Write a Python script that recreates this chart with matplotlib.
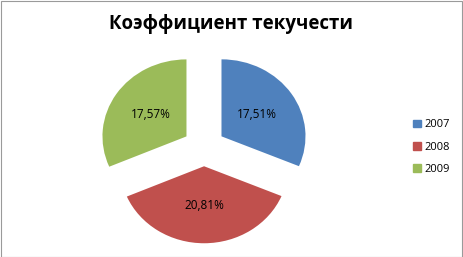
import matplotlib
matplotlib.use("Agg")
import matplotlib.pyplot as plt
from matplotlib.patches import Rectangle
import numpy as np

years = ["2007", "2008", "2009"]
values = [17.51, 20.81, 17.57]
colors = ["#4F81BD", "#C0504D", "#9BBB59"]
title = "Коэффициент текучести"

W, H = 463, 257
fig = plt.figure(figsize=(W / 100, H / 100), dpi=100)
fig.patch.set_facecolor("white")

# pie axes: center at (204,147) px, radii 84 x 77 px (stretched as in reference)
RX, RY = 84.0, 77.0
cx, cy = 204, 147
half = 110
ax = fig.add_axes([(cx - half) / W, (H - cy - half) / H, 2 * half / W, 2 * half / H])
ax.axis("off")

labels_txt = [f"{v:.2f}".replace(".", ",") + "%" for v in values]
explode = 0.25
wedges, texts = ax.pie(values, colors=colors, startangle=90, counterclock=False,
                       explode=[explode] * 3, radius=1.0, labels=None,
                       wedgeprops=dict(linewidth=0))
for w, lab in zip(wedges, labels_txt):
    ang = np.deg2rad((w.theta1 + w.theta2) / 2)
    d = 0.755
    ax.text(d * np.cos(ang), d * np.sin(ang), lab, ha="center", va="center",
            fontsize=8.5, family=["Open Sans", "DejaVu Sans"], color="black")
ax.set_aspect("auto")
ax.set_xlim(-half / RX, half / RX)
ax.set_ylim(-half / RY, half / RY)

fig.text(231 / W, 1 - 24 / H, title, ha="center", va="center", fontsize=13.5,
         fontweight="bold", family=["Open Sans", "DejaVu Sans"])

handles = [Rectangle((0, 0), 1, 1, color=c) for c in colors]
fig.legend(handles, years, loc="center left", bbox_to_anchor=(403 / W, 1 - 147 / H),
           frameon=False, handlelength=0.7, handleheight=0.7,
           handletextpad=0.3, labelspacing=1.0,
           prop={"family": ["Open Sans", "DejaVu Sans"], "size": 8})

fig.add_artist(Rectangle((0.5 / W, 0.5 / H), 1 - 1.5 / W, 1 - 1.5 / H,
                         transform=fig.transFigure, fill=False,
                         edgecolor="#9a9a9a", linewidth=0.8))

fig.savefig("out.png", dpi=100)
